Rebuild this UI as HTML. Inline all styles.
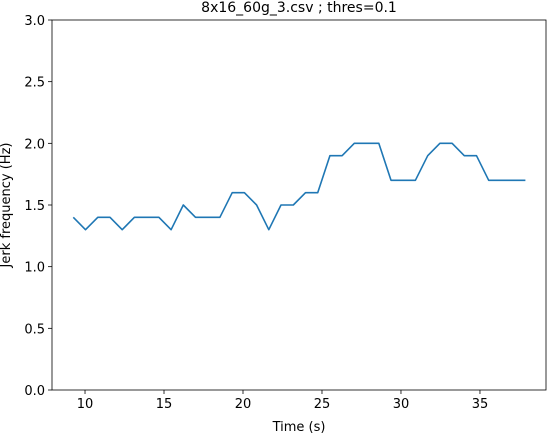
<!DOCTYPE html>
<html><head><meta charset="utf-8"><style>
body{margin:0;background:#fff;}
svg{display:block;font-family:"DejaVu Sans","Liberation Sans",sans-serif;}
</style></head><body>
<svg id="chart" width="547" height="433">
<rect x="0" y="0" width="547" height="433" fill="#fff"/>
<text x="299" y="12" font-size="14" text-anchor="middle">8x16_60g_3.csv ; thres=0.1</text>
<g id="axes"></g>
<text x="299" y="431" font-size="13" text-anchor="middle">Time (s)</text>
<text transform="translate(10,205) rotate(-90)" font-size="13" text-anchor="middle">Jerk frequency (Hz)</text>
</svg>
<script>
const freqValues=[1.4,1.3,1.4,1.4,1.3,1.4,1.4,1.4,1.3,1.5,1.4,1.4,1.4,1.6,1.6,1.5,1.3,1.5,1.5,1.6,1.6,1.9,1.9,2.0,2.0,2.0,1.7,1.7,1.7,1.9,2.0,2.0,1.9,1.9,1.7,1.7,1.7,1.7];
const timeStart=9.26, timeStep=0.7734;
const xTicks=[10,15,20,25,30,35];
const yTicks=[0.0,0.5,1.0,1.5,2.0,2.5,3.0];
const L=52,R=546,T=20,B=390,xMin=7.91,xMax=39.18,yMin=0,yMax=3;
const sx=v=>L+(v-xMin)/(xMax-xMin)*(R-L);
const sy=v=>B-(v-yMin)/(yMax-yMin)*(B-T);
const NS="http://www.w3.org/2000/svg";
const g=document.getElementById('axes');
function mk(t,a){const e=document.createElementNS(NS,t);for(const k in a)e.setAttribute(k,a[k]);g.appendChild(e);return e;}
xTicks.forEach(v=>{
 const l=mk('line',{x1:sx(v),x2:sx(v),y1:B,y2:B+4,stroke:'#000','stroke-width':0.8});
 
 
 const t=mk('text',{x:sx(v),y:B+18,'font-size':13,'text-anchor':'middle'});t.textContent=v;
 
 
});
yTicks.forEach(v=>{
 const l=mk('line',{x1:L-4,x2:L,y1:sy(v),y2:sy(v),stroke:'#000','stroke-width':0.8});
 
 
 const t=mk('text',{x:L-7,y:sy(v)+5,'font-size':13,'text-anchor':'end'});t.textContent=v.toFixed(1);
 
 
});
const pts=freqValues.map((v,i)=>sx(timeStart+i*timeStep).toFixed(1)+','+sy(v).toFixed(1)).join(' ');
const pl=mk('polyline',{points:pts,fill:'none',stroke:'#1f77b4','stroke-width':1.6,'stroke-linejoin':'round'});


const fr=mk('rect',{x:L,y:T,width:R-L,height:B-T,fill:'none',stroke:'#000','stroke-width':0.8});


</script>
</body></html>
